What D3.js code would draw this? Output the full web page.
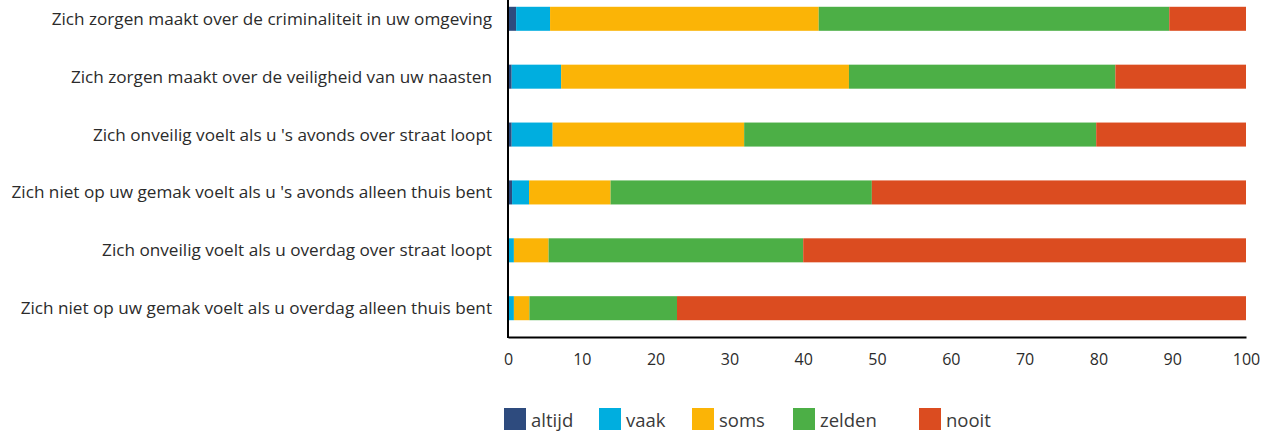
<!DOCTYPE html>
<html><head><meta charset="utf-8">
<script src="https://cdn.jsdelivr.net/npm/d3@7"></script>
<style>
html,body{margin:0;padding:0;background:#fff;}
svg{display:block;font-family:"Open Sans",Lato,sans-serif;}
</style></head>
<body><svg id="c" width="1265" height="434"></svg>
<script>
const categories = [
  "Zich zorgen maakt over de criminaliteit in uw omgeving",
  "Zich zorgen maakt over de veiligheid van uw naasten",
  "Zich onveilig voelt als u 's avonds over straat loopt",
  "Zich niet op uw gemak voelt als u 's avonds alleen thuis bent",
  "Zich onveilig voelt als u overdag over straat loopt",
  "Zich niet op uw gemak voelt als u overdag alleen thuis bent"
];
const seriesNames = ["altijd","vaak","soms","zelden","nooit"];
const altijd = [1.1, 0.5, 0.5, 0.55, 0.1, 0.1];
const vaak   = [4.6, 6.7, 5.55, 2.3, 0.7, 0.7];
const soms   = [36.4, 39.0, 25.95, 11.05, 4.7, 2.1];
const zelden = [47.5, 36.1, 47.7, 35.4, 34.5, 20.0];
const nooit  = [10.4, 17.7, 20.3, 50.7, 60.0, 77.1];
const tickValues = [0,10,20,30,40,50,60,70,80,90,100];
const colors = ["#2E4B7E","#00AEDF","#FBB406","#4CAF46","#DB4C20"];

const seriesData = [altijd, vaak, soms, zelden, nooit];
const rows = categories.map((c,i)=>{
  const r = {cat:c};
  seriesNames.forEach((s,j)=>r[s]=seriesData[j][i]);
  return r;
});
const stack = d3.stack().keys(seriesNames)(rows);

const svg = d3.select("#c");
const x = d3.scaleLinear().domain([0,100]).range([508,1246]);
const y = d3.scaleBand().domain(categories).range([-10,337]).paddingInner(0.585).paddingOuter(0.29);

svg.append("g").selectAll("g").data(stack).join("g")
  .attr("fill",(d,i)=>colors[i])
  .selectAll("rect").data(d=>d).join("rect")
  .attr("x",d=>x(d[0]))
  .attr("width",d=>Math.max(0,x(d[1])-x(d[0])))
  .attr("y",d=>y(d.data.cat))
  .attr("height",y.bandwidth());

// category labels
const labels = svg.append("g").selectAll("text").data(categories).join("text")
  .attr("x",492).attr("y",d=>y(d)+y.bandwidth()/2)
  .attr("dy","0.35em").attr("text-anchor","end")
  .attr("fill","#2b2b2b").style("font-size","16px")
  .text(d=>d);
let maxW = 0; labels.each(function(){ maxW = Math.max(maxW, this.getComputedTextLength()); });
labels.style("font-size", (16*481/maxW).toFixed(2)+"px");

// axes lines
svg.append("line").attr("x1",x(0)).attr("x2",x(0)).attr("y1",0).attr("y2",338)
  .attr("stroke","#000").attr("stroke-width",2);
const xAxis = d3.axisBottom(x).tickValues(tickValues).tickSize(0).tickPadding(17);
const gx = svg.append("g").attr("transform","translate(0,337)").call(xAxis);
gx.select(".domain").attr("stroke","#000").attr("stroke-width",2);
gx.selectAll("text").style("font-size","16px").attr("fill","#2b2b2b").style("font-family","'Open Sans',sans-serif");

// legend
const legX = [504,599,692,793,919];
const lg = svg.append("g").selectAll("g").data(seriesNames).join("g")
  .attr("transform",(d,i)=>`translate(${legX[i]},408)`);
lg.append("rect").attr("width",22).attr("height",22).attr("fill",(d,i)=>colors[i]);
lg.append("text").attr("x",27).attr("y",19).attr("fill","#3a3a3a")
  .style("font-size","18.5px").text(d=>d);
</script></body></html>
